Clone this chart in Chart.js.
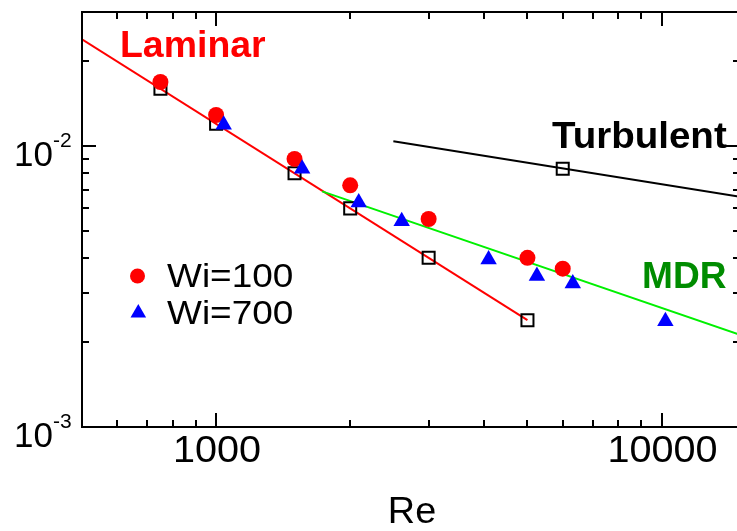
<!DOCTYPE html>
<html><head><meta charset="utf-8">
<script src="https://cdn.jsdelivr.net/npm/chart.js@4.4.1/dist/chart.umd.min.js"></script>
<style>
html,body{margin:0;padding:0;background:#fff;overflow:hidden;width:737px;height:531px;}
#wrap{position:absolute;left:0;top:0;width:742px;height:531px;}
#c{display:block;width:742px;height:531px;}
</style></head><body>
<div id="wrap"><canvas id="c" width="742" height="531"></canvas></div>
<script>
// ---- data ----
const wi100Re = [750, 1000, 1500, 2000, 3000, 5000, 6000];
const wi100F  = [0.0169, 0.0129, 0.0090, 0.00725, 0.0055, 0.0040, 0.00366];
const wi700Re = [1040, 1560, 2090, 2610, 4090, 5250, 6320, 10200];
const wi700F  = [0.0119, 0.0083, 0.0063, 0.0054, 0.00395, 0.00345, 0.00324, 0.00238];
const lamRe   = [750, 1000, 1500, 2000, 3000, 5000];
const lamF    = [0.016, 0.012, 0.008, 0.006, 0.004, 0.0024];
const turbRe  = [6000];
const turbF   = [0.0083];
const lamLineRe  = [500, 5000];
const lamLineF   = [0.024, 0.0024];
const turbLineRe = [2500, 15000];
const turbLineF  = [0.0104, 0.0066];
const mdrLineRe  = [1730, 15000];
const mdrLineF   = [0.0069, 0.00213];
const xTickValues = [1000, 10000];
const xTickLabels = ['1000', '10000'];
const yTickValues = [0.001, 0.01];
const yTickBases  = ['10', '10'];
const yTickExps   = ['-3', '-2'];
const legendLabels = ['Wi=100', 'Wi=700'];

const pts = (xs, ys) => xs.map((v, i) => ({x: v, y: ys[i]}));
const FONT = '"Liberation Sans", Arial, Helvetica, sans-serif';

function text(ctx, s, x, y, font, align, sx) {
  ctx.save();
  ctx.font = font;
  ctx.textAlign = 'left';
  ctx.textBaseline = 'alphabetic';
  const w = ctx.measureText(s).width * sx;
  let left = x;
  if (align === 'center') left = x - w / 2;
  else if (align === 'right') left = x - w;
  ctx.translate(left, y);
  ctx.scale(sx, 1);
  ctx.fillText(s, 0, 0);
  ctx.restore();
}

const framePlugin = {
  id: 'frame',
  afterDatasetsDraw(chart) {
    const {ctx, chartArea: a, scales: {x, y}} = chart;
    ctx.save();
    ctx.strokeStyle = '#000';
    ctx.lineWidth = 2;
    const seg = (x1, y1, x2, y2) => { ctx.beginPath(); ctx.moveTo(x1, y1); ctx.lineTo(x2, y2); ctx.stroke(); };
    ctx.strokeRect(a.left, a.top, a.right - a.left, a.bottom - a.top);
    for (let d = 100; d <= 10000; d *= 10) {
      for (let k = 1; k <= 9; k++) {
        const v = d * k;
        if (v <= x.min * 1.0001 || v >= x.max * 0.9999) continue;
        const px = Math.round(x.getPixelForValue(v));
        const len = k === 1 ? 14 : 7;
        seg(px, a.bottom, px, a.bottom - len);
        seg(px, a.top, px, a.top + len);
      }
    }
    [0.001, 0.01].forEach(d => {
      for (let k = 1; k <= 9; k++) {
        const v = d * k;
        if (v <= y.min * 1.0001 || v >= y.max * 0.9999) continue;
        const py = Math.round(y.getPixelForValue(v));
        const len = k === 1 ? 14 : 7;
        seg(a.left, py, a.left + len, py);
        seg(a.right, py, a.right - len, py);
      }
    });
    ctx.fillStyle = '#000';
    xTickValues.forEach((v, i) => {
      text(ctx, xTickLabels[i], x.getPixelForValue(v) + 1, a.bottom + 35, '37px ' + FONT, 'center', 1.07);
    });
    yTickValues.forEach((v, i) => {
      const py = y.getPixelForValue(v);
      text(ctx, yTickBases[i], 53, py + 20, '35px ' + FONT, 'right', 1.0);
      text(ctx, yTickExps[i], 53, py + 1, '21px ' + FONT, 'left', 1.0);
    });
    text(ctx, 'Re', (a.left + a.right) / 2 + 1, 523, '36px ' + FONT, 'center', 1.05);
    ctx.fillStyle = '#ff0000';
    text(ctx, 'Laminar', 120, 57, 'bold 36px ' + FONT, 'left', 1.04);
    ctx.fillStyle = '#000000';
    text(ctx, 'Turbulent', 552, 148, 'bold 36px ' + FONT, 'left', 1.07);
    ctx.fillStyle = '#008c00';
    text(ctx, 'MDR', 642, 288, 'bold 36px ' + FONT, 'left', 1.03);
    ctx.fillStyle = '#ff0000';
    ctx.beginPath(); ctx.arc(137.5, 276, 7.5, 0, Math.PI * 2); ctx.fill();
    ctx.fillStyle = '#0000ff';
    const tr = 9, tx = 138.3, ty = 313;
    ctx.beginPath();
    ctx.moveTo(tx, ty - tr);
    ctx.lineTo(tx + tr * Math.sin(2 * Math.PI / 3), ty + tr / 2);
    ctx.lineTo(tx - tr * Math.sin(2 * Math.PI / 3), ty + tr / 2);
    ctx.closePath(); ctx.fill();
    ctx.fillStyle = '#000';
    text(ctx, legendLabels[0], 167, 287, '33px ' + FONT, 'left', 1.12);
    text(ctx, legendLabels[1], 167, 324, '33px ' + FONT, 'left', 1.12);
    ctx.restore();
  }
};

new Chart(document.getElementById('c'), {
  type: 'scatter',
  data: {
    datasets: [
      { label: 'Laminar line', type: 'line', data: pts(lamLineRe, lamLineF), borderColor: '#ff0000', borderWidth: 2, pointRadius: 0, showLine: true, fill: false, order: 10 },
      { label: 'Turbulent line', type: 'line', data: pts(turbLineRe, turbLineF), borderColor: '#000000', borderWidth: 2, pointRadius: 0, showLine: true, fill: false, order: 9 },
      { label: 'MDR line', type: 'line', data: pts(mdrLineRe, mdrLineF), borderColor: '#00f000', borderWidth: 2, pointRadius: 0, showLine: true, fill: false, order: 8 },
      { label: 'Newtonian laminar', data: pts(lamRe, lamF), pointStyle: 'rect', pointRadius: 8.5, borderColor: '#000', borderWidth: 2, backgroundColor: 'rgba(0,0,0,0)', order: 7 },
      { label: 'Newtonian turbulent', data: pts(turbRe, turbF), pointStyle: 'rect', pointRadius: 8.5, borderColor: '#000', borderWidth: 2, backgroundColor: 'rgba(0,0,0,0)', order: 6 },
      { label: 'Wi=100', data: pts(wi100Re, wi100F), pointStyle: 'circle', pointRadius: 8, borderWidth: 0, backgroundColor: '#ff0000', borderColor: '#ff0000', order: 5 },
      { label: 'Wi=700', data: pts(wi700Re, wi700F), pointStyle: 'triangle', pointRadius: 9.5, borderWidth: 0, backgroundColor: '#0000ff', borderColor: '#0000ff', order: 4 }
    ]
  },
  options: {
    responsive: false,
    animation: false,
    devicePixelRatio: 1,
    layout: { autoPadding: false, padding: { left: 82, right: 2, top: 12, bottom: 104 } },
    plugins: { legend: { display: false }, tooltip: { enabled: false } },
    scales: {
      x: { type: 'logarithmic', min: 500, max: 15000, display: false },
      y: { type: 'logarithmic', min: 0.001, max: 0.03, display: false }
    }
  },
  plugins: [framePlugin]
});
</script>
</body></html>
